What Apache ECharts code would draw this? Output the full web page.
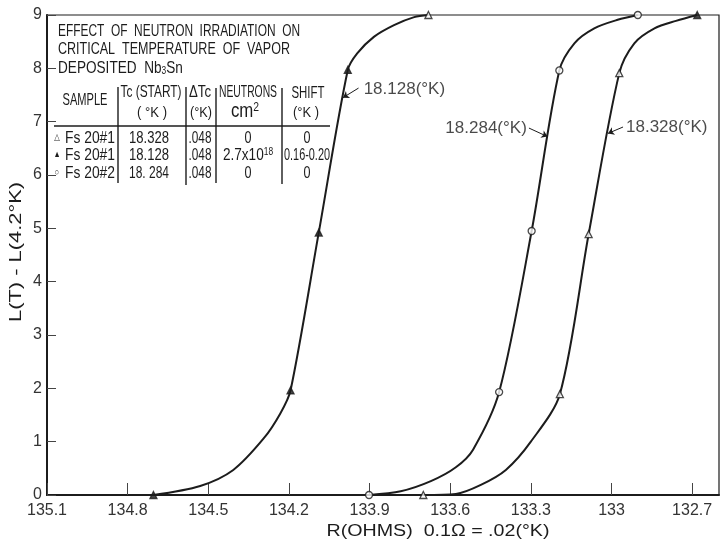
<!DOCTYPE html>
<html>
<head>
<meta charset="utf-8">
<script src="https://cdn.jsdelivr.net/npm/echarts@6/dist/echarts.min.js"></script>
<style>
  html, body { margin: 0; padding: 0; background: #fff; }
  #chart { width: 721px; height: 542px; }
</style>
</head>
<body>
<div id="chart"></div>
<script>
// tick labels
const xTicks = [135.1, 134.8, 134.5, 134.2, 133.9, 133.6, 133.3, 133.0, 132.7];
const yTicks = [0, 1, 2, 3, 4, 5, 6, 7, 8, 9];

// curves: [R (ohms), L(T)-L(4.2K)]
const curve18128 = [
  [134.704, 0], [134.530, 0.17], [134.407, 0.47], [134.294, 1.06], [134.232, 1.53],
  [134.194, 1.96], [134.089, 4.92], [133.981, 7.97], [133.946, 8.28], [133.884, 8.59],
  [133.809, 8.81], [133.734, 8.96], [133.681, 9.0]
];
const curve18284 = [
  [133.902, 0], [133.784, 0.07], [133.672, 0.26], [133.579, 0.52], [133.515, 0.85],
  [133.418, 1.93], [133.297, 4.95], [133.194, 7.96], [133.138, 8.47],
  [133.064, 8.75], [132.977, 8.91], [132.902, 9.0]
];
const curve18328 = [
  [133.700, 0], [133.579, 0.02], [133.486, 0.19], [133.393, 0.47], [133.300, 1.0],
  [133.192, 1.89], [133.085, 4.89], [132.971, 7.91],
  [132.915, 8.47], [132.840, 8.75], [132.760, 8.89], [132.681, 9.0]
];

// measured points, by marker
const filledTriangle = [[134.704, 0], [134.194, 1.96], [134.089, 4.92], [133.981, 7.97], [132.681, 9.0]];
const openTriangle = [[133.681, 9.0], [133.700, 0], [133.192, 1.89], [133.085, 4.89], [132.971, 7.91]];
const openCircle = [[133.902, 0], [133.418, 1.93], [133.297, 4.95], [133.194, 7.96], [132.902, 9.0]];

// curve labels and their arrows
const curveLabels = ['18.128(°K)', '18.284(°K)', '18.328(°K)'];
const labelSide = ['right', 'left', 'right'];
const labelPos = [[133.922, 7.61], [133.315, 6.88], [132.946, 6.90]];
const arrowFrom = [[133.941, 7.63], [133.307, 6.88], [132.957, 6.90]];
const arrowTo = [[133.999, 7.45], [133.238, 6.72], [133.013, 6.78]];

// table in the upper left
const tableRows = [
  ['△', 'Fs 20#1', '18.328', '.048', '0', '0'],
  ['▲', 'Fs 20#1', '18.128', '.048', '2.7x10{s|18}', '0.16-0.20'],
  ['○', 'Fs 20#2', '18. 284', '.048', '0', '0']
];

const ink = '#1c1c1c';
const sans = "'Liberation Sans','DejaVu Sans',sans-serif";
const measure = document.createElement('canvas').getContext('2d');

let chart = echarts.init(document.getElementById('chart'));

// text squeezed to the width it takes in the original lettering
function txt(x, y, s, size, align, width, rot) {
  measure.font = size + 'px ' + sans;
  let plain = s.replace(/\{\w+\|([^}]*)\}/g, '$1');
  let sx = width ? width / measure.measureText(plain).width : 0.8;
  return {
    type: 'text', x: x, y: y, scaleX: sx, rotation: rot || 0, silent: true,
    style: {
      text: s, x: 0, y: 0, fill: ink, font: size + 'px ' + sans,
      textAlign: align || 'center', textVerticalAlign: 'middle',
      rich: {
        s: { fontSize: size * 0.62, fontFamily: sans, fill: ink, verticalAlign: 'top' },
        sub: { fontSize: size * 0.62, fontFamily: sans, fill: ink, verticalAlign: 'bottom' },
        n: { fontSize: size, fontFamily: sans, fill: ink }
      }
    }
  };
}
function seg(x1, y1, x2, y2) {
  return { type: 'line', silent: true, shape: { x1: x1, y1: y1, x2: x2, y2: y2 }, style: { stroke: ink, lineWidth: 1.4 } };
}

let graphics = [
  txt(58, 31, 'EFFECT  OF  NEUTRON  IRRADIATION  ON', 17, 'left', 242),
  txt(58, 49, 'CRITICAL  TEMPERATURE  OF  VAPOR', 17, 'left', 232),
  txt(58, 68, '{n|DEPOSITED  Nb}{sub|3}{n|Sn}', 17, 'left', null),
  txt(85, 100, 'SAMPLE', 17, 'center', 45),
  txt(151, 92, 'Tc (START)', 17, 'center', 61),
  txt(152, 113, '( °K )', 15, 'center', 30),
  txt(200, 92, 'ΔTc', 17, 'center', 22),
  txt(201, 113, '(°K)', 15, 'center', 22),
  txt(248, 92, 'NEUTRONS', 17, 'center', 58),
  txt(245, 111, 'cm{s|2}', 21, 'center', null),
  txt(308, 93, 'SHIFT', 17, 'center', 33),
  txt(306, 113, '(°K )', 15, 'center', 26),
  txt(17, 252, 'L(T) - L(4.2°K)', 16, 'center', 140, Math.PI / 2),
  txt(438, 532, 'R(OHMS)  0.1Ω = .02(°K)', 16, 'center', 223),
  seg(54, 126, 330, 126),
  seg(118, 87, 118, 183),
  seg(186, 87, 186, 185),
  seg(216, 88, 216, 183),
  seg(282, 88, 282, 184)
];
const rowY = [138, 155, 173];
tableRows.forEach((r, i) => {
  let y = rowY[i];
  graphics.push(txt(57, y, r[0], 9, 'center', null));
  graphics.push(txt(65, y, r[1], 17, 'left', 50));
  graphics.push(txt(149, y, r[2], 17, 'center', 40));
  graphics.push(txt(200, y, r[3], 17, 'center', 23));
  graphics.push(i === 1 ? txt(248, y, r[4], 17, 'center', null) : txt(248, y, r[4], 17, 'center', 7));
  graphics.push(i === 1 ? txt(307, y, r[5], 17, 'center', 46) : txt(307, y, r[5], 17, 'center', 7));
});

function line(data) {
  return {
    type: 'line', data: data, smooth: 0.3, showSymbol: false, silent: true,
    lineStyle: { color: ink, width: 2 }, z: 2
  };
}
function points(data, symbol, fill) {
  return {
    type: 'scatter', data: data, symbol: symbol, symbolSize: 7, silent: true, z: 3,
    itemStyle: { color: fill, borderColor: ink, borderWidth: 1.3 }
  };
}

let option = {
  animation: false,
  backgroundColor: '#fff',
  grid: {
    left: 47, right: 2, top: 15, bottom: 47, outerBoundsMode: 'none',
    show: true, borderColor: ink, borderWidth: 1.2
  },
  xAxis: {
    type: 'value', inverse: true, min: 132.6, max: 135.1,
    axisLine: { lineStyle: { color: ink, width: 2 } },
    axisTick: { inside: true, length: 12, customValues: xTicks, lineStyle: { color: '#444', width: 1 } },
    axisLabel: {
      customValues: xTicks, color: '#333', fontSize: 16, fontFamily: sans, margin: 8,
      formatter: v => String(+v.toFixed(1))
    },
    splitLine: { show: false }
  },
  yAxis: {
    type: 'value', min: 0, max: 9, interval: 1,
    axisLine: { lineStyle: { color: ink, width: 2 } },
    axisTick: { inside: true, length: 9, lineStyle: { color: '#444', width: 1 } },
    axisLabel: {
      color: '#333', fontSize: 16, fontFamily: sans, margin: 5,
      formatter: v => yTicks.indexOf(v) >= 0 ? String(v) : ''
    },
    splitLine: { show: false }
  },
  graphic: graphics,
  series: [
    line(curve18128),
    line(curve18284),
    line(curve18328),
    points(filledTriangle, 'triangle', ink),
    points(openTriangle, 'triangle', '#fff'),
    points(openCircle, 'circle', '#fff'),
    {
      type: 'scatter', silent: true, symbolSize: 0, z: 4,
      data: labelPos.map((p, i) => ({
        value: p, name: curveLabels[i], label: { position: labelSide[i] }
      })),
      label: {
        show: true, color: ink, fontSize: 17, fontFamily: sans,
        formatter: p => p.name, distance: 0
      },
      markLine: {
        silent: true, symbol: ['none', 'arrow'], symbolSize: 6,
        lineStyle: { color: ink, width: 1, type: 'solid' },
        label: { show: false },
        data: arrowFrom.map((p, i) => [{ coord: p }, { coord: arrowTo[i] }])
      }
    }
  ]
};
option && chart.setOption(option);
</script>
</body>
</html>
